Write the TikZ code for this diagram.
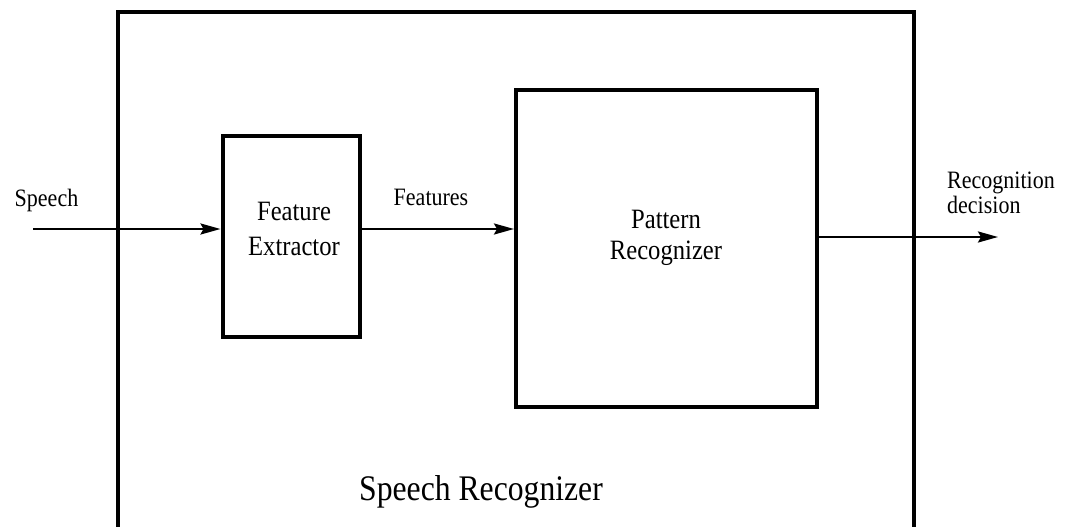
\documentclass[tikz,border=0pt]{standalone}
\usepackage{fontspec}
\setmainfont{Liberation Serif}[FakeStretch=0.88]
\usetikzlibrary{arrows.meta}
\tikzset{
  frame/.style={draw, line width=4pt, inner sep=0pt, outer sep=2pt},
  flow/.style={line width=2.4pt, -{Stealth[length=20pt, width=11pt, inset=3pt]}},
  small/.style={font=\fontsize{25}{27}\selectfont, inner sep=0pt},
  boxtext/.style={font=\fontsize{28}{34}\selectfont, inner sep=0pt, align=center},
  bigtext/.style={font=\fontsize{36}{40}\selectfont, inner sep=0pt}
}
\begin{document}
\begin{tikzpicture}[x=1pt, y=-1pt]
  \useasboundingbox (0,0) rectangle (1068,527);
  \clip (0,0) rectangle (1068,527);
  % outer recognizer frame, open at the bottom edge
  \node[frame, minimum width=796pt, minimum height=528pt] (sr) at (516,276) {};
  % processing blocks
  \node[frame, minimum width=137pt, minimum height=201pt] (fe) at (291,236.5) {};
  \node[frame, minimum width=301pt, minimum height=317pt] (pr) at (666.5,248) {};
  % block labels (base anchor sits on the last line)
  \node[boxtext, anchor=base, font=\fontsize{28}{35}\selectfont] (fetext) at (294,255) {Feature\\Extractor};
  \node[boxtext, anchor=base, font=\fontsize{28}{31}\selectfont] (prtext) at (666,259) {Pattern\\Recognizer};
  \node[bigtext, anchor=base] (srtext) at (481,500) {Speech Recognizer};
  % signal flow
  \coordinate (in) at (33,229);
  \coordinate (fout) at (fe.east |- 0,229);
  \coordinate (pout) at (pr.east |- 0,237);
  \coordinate (out) at (998,237);
  \draw[flow] (in) -- (in -| fe.west);
  \draw[flow] (fout) -- (fout -| pr.west);
  \draw[flow] (pout) -- (out);
  % signal labels
  \node[small, anchor=base] (speech) at (46.5,206) {Speech};
  \node[small, anchor=base] (feat) at (431,205) {Features};
  \node[small, anchor=base west, align=left, font=\fontsize{25}{25}\selectfont] (dec) at (947,213) {Recognition\\decision};
\end{tikzpicture}
\end{document}
